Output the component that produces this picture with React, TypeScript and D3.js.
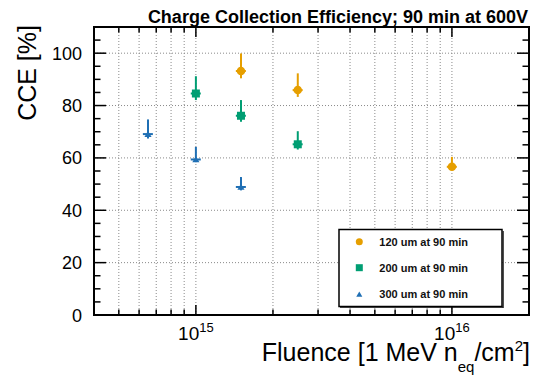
import React, { useRef, useEffect } from "react";
import * as d3 from "d3";

// 120 um
const fluence120 = [1.5e15, 2.5e15, 1e16];
const cce120 = [93.2, 85.9, 56.6];
const errUp120 = [6.7, 6.4, 3.8];
const errDown120 = [2.8, 2.6, 1.3];

// 200 um
const fluence200 = [1e15, 1.5e15, 2.5e15];
const cce200 = [84.6, 76.1, 65.2];
const errUp200 = [6.6, 6.0, 5.0];
const errDown200 = [2.5, 2.3, 2.0];

// 300 um
const fluence300 = [6.5e14, 1e15, 1.5e15];
const cce300 = [69.1, 59.4, 48.9];
const errUp300 = [5.6, 4.8, 3.8];
const errDown300 = [1.7, 1.0, 1.3];

const xErrFrac = 0.045;

const seriesNames = ["120 um at 90 min", "200 um at 90 min", "300 um at 90 min"];
const seriesColors = ["#E69F00", "#009E73", "#1f6fb4"];
const seriesShapes = ["circle", "square", "triangle"];

const yMajorTicks = [0, 20, 40, 60, 80, 100];
const yMinorTicks = d3.range(0, 111, 5);
const xMajorTicks = [1e15, 1e16];
const xMinorTicks = [5e14, 6e14, 7e14, 8e14, 9e14, 2e15, 3e15, 4e15, 5e15, 6e15, 7e15, 8e15, 9e15, 2e16];
const xTickExp = ["15", "16"];

export default function App() {
  const ref = useRef<SVGSVGElement>(null);

  useEffect(() => {
    document.body.style.margin = "0";
    if (!ref.current) return;
    const svg = d3.select(ref.current);
    svg.selectAll("*").remove();

    const W = 539, H = 376;
    const margin = { top: 27, right: 10, bottom: 61, left: 94 };
    const font = "'Liberation Sans', Arial, Helvetica, sans-serif";

    const x = d3.scaleLog().domain([4e14, 2e16]).range([margin.left, W - margin.right]);
    const y = d3.scaleLinear().domain([0, 110]).range([H - margin.bottom, margin.top]);

    svg.append("rect").attr("width", W).attr("height", H).attr("fill", "#fff");

    // grid
    const grid = svg.append("g")
      .attr("stroke", "#8a8a8a")
      .attr("stroke-width", 1)
      .attr("stroke-dasharray", "1,2");
    [...xMajorTicks, ...xMinorTicks].forEach(t => {
      grid.append("line")
        .attr("x1", x(t)).attr("x2", x(t))
        .attr("y1", y(0)).attr("y2", y(110));
    });
    yMajorTicks.filter(t => t > 0).forEach(t => {
      grid.append("line")
        .attr("x1", x(4e14)).attr("x2", x(2e16))
        .attr("y1", y(t)).attr("y2", y(t));
    });

    // ticks
    const ticks = svg.append("g").attr("stroke", "#000").attr("stroke-width", 1.5);
    const x0 = x(4e14), x1 = x(2e16), y0 = y(0), y1 = y(110);
    yMinorTicks.forEach(t => {
      const len = t % 20 === 0 ? 12 : 6.5;
      ticks.append("line").attr("x1", x0).attr("x2", x0 + len).attr("y1", y(t)).attr("y2", y(t));
      ticks.append("line").attr("x1", x1).attr("x2", x1 - len).attr("y1", y(t)).attr("y2", y(t));
    });
    [...xMajorTicks, ...xMinorTicks].forEach(t => {
      const len = xMajorTicks.includes(t) ? 10 : 5.5;
      ticks.append("line").attr("x1", x(t)).attr("x2", x(t)).attr("y1", y0).attr("y2", y0 - len);
      ticks.append("line").attr("x1", x(t)).attr("x2", x(t)).attr("y1", y1).attr("y2", y1 + len);
    });

    // frame
    svg.append("rect")
      .attr("x", x0).attr("y", y1)
      .attr("width", x1 - x0).attr("height", y0 - y1)
      .attr("fill", "none").attr("stroke", "#000").attr("stroke-width", 2);

    // y tick labels
    yMajorTicks.forEach(t => {
      svg.append("text")
        .attr("x", x0 - 12).attr("y", y(t) + 6.5)
        .attr("text-anchor", "end")
        .style("font-family", font).style("font-size", "18px")
        .text(t);
    });

    // x tick labels
    xMajorTicks.forEach((t, i) => {
      const tx = svg.append("text")
        .attr("x", x(t)).attr("y", 340)
        .attr("text-anchor", "middle")
        .style("font-family", font).style("font-size", "19px");
      tx.append("tspan").text("10");
      tx.append("tspan").attr("dy", -8).style("font-size", "13px").text(xTickExp[i]);
    });

    // axis titles
    const xl = svg.append("text")
      .attr("x", 530).attr("y", 361)
      .attr("text-anchor", "end")
      .style("font-family", font).style("font-size", "25px");
    xl.append("tspan").text("Fluence [1 MeV n");
    xl.append("tspan").attr("dy", 11).style("font-size", "15px").text("eq");
    xl.append("tspan").attr("dy", -11).text("/cm");
    xl.append("tspan").attr("dy", -10).style("font-size", "15px").text("2");
    xl.append("tspan").attr("dy", 10).text("]");

    svg.append("text")
      .attr("transform", `translate(36,25) rotate(-90)`)
      .attr("text-anchor", "end")
      .style("font-family", font).style("font-size", "25px")
      .text("CCE [%]");

    svg.append("text")
      .attr("x", 528).attr("y", 23)
      .attr("text-anchor", "end")
      .style("font-family", font).style("font-size", "18px").style("font-weight", "bold")
      .text("Charge Collection Efficiency; 90 min at 600V");

    // markers
    const drawMarker = (g: any, shape: string, cx: number, cy: number, color: string, s: number) => {
      if (shape === "circle") {
        g.append("circle").attr("cx", cx).attr("cy", cy).attr("r", s / 2).attr("fill", color);
      } else if (shape === "square") {
        g.append("rect").attr("x", cx - s / 2).attr("y", cy - s / 2).attr("width", s).attr("height", s).attr("fill", color);
      } else {
        const sym = d3.symbol().type(d3.symbolTriangle).size(s * s * 0.45);
        g.append("path").attr("transform", `translate(${cx},${cy + 0.8})`).attr("d", sym()).attr("fill", color);
      }
    };

    const series = [
      { f: fluence120, v: cce120, up: errUp120, dn: errDown120 },
      { f: fluence200, v: cce200, up: errUp200, dn: errDown200 },
      { f: fluence300, v: cce300, up: errUp300, dn: errDown300 },
    ];
    const markerSizes = [8.5, 8, 7];

    series.forEach((s, si) => {
      const g = svg.append("g");
      const color = seriesColors[si];
      s.f.forEach((fv, i) => {
        const cx = x(fv), cy = y(s.v[i]);
        g.append("line")
          .attr("x1", cx).attr("x2", cx)
          .attr("y1", y(s.v[i] + s.up[i])).attr("y2", y(s.v[i] - s.dn[i]))
          .attr("stroke", color).attr("stroke-width", 2);
        g.append("line")
          .attr("x1", x(fv * (1 - xErrFrac))).attr("x2", x(fv * (1 + xErrFrac)))
          .attr("y1", cy).attr("y2", cy)
          .attr("stroke", color).attr("stroke-width", 2);
        drawMarker(g, seriesShapes[si], cx, cy, color, markerSizes[si]);
      });
    });

    // legend
    const lg = svg.append("g");
    lg.append("rect")
      .attr("x", 339).attr("y", 229.5)
      .attr("width", 163).attr("height", 77)
      .attr("fill", "#fff").attr("stroke", "#000").attr("stroke-width", 1.5);
    lg.append("line").attr("x1", 340).attr("x2", 503).attr("y1", 307.2).attr("y2", 307.2).attr("stroke", "#000").attr("stroke-width", 1);
    lg.append("line").attr("x1", 503.2).attr("x2", 503.2).attr("y1", 231).attr("y2", 308).attr("stroke", "#000").attr("stroke-width", 1);
    const rowsY = [241.7, 267.7, 294.3];
    seriesNames.forEach((name, i) => {
      drawMarker(lg, seriesShapes[i], 359.3, rowsY[i], seriesColors[i], [7, 7, 6][i]);
      lg.append("text")
        .attr("x", 379.3).attr("y", rowsY[i] + 4)
        .style("font-family", font).style("font-size", "11px").style("font-weight", "bold")
        .attr("fill", "#111")
        .text(name);
    });
  }, []);

  return <svg ref={ref} width={539} height={376} style={{ display: "block" }} />;
}
